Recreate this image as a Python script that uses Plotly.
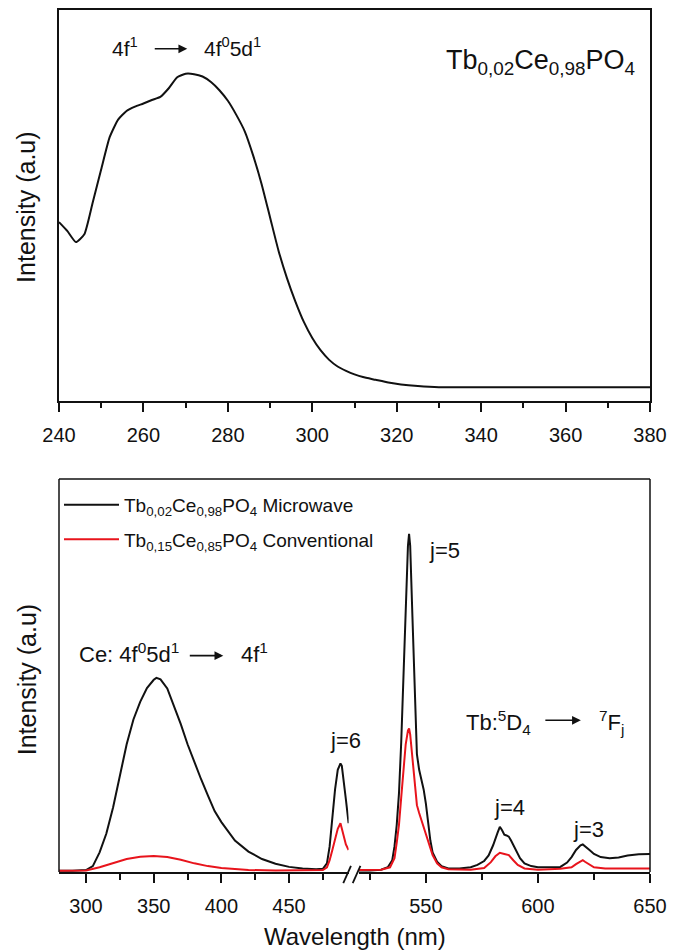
import plotly.graph_objects as go

# ---------------- data ----------------
# Top panel: excitation spectrum Tb0,02Ce0,98PO4
exc_wl = [240, 242, 244, 246, 248, 250, 252, 254, 256, 258, 260, 262, 264, 266, 268, 270,
          272, 274, 276, 278, 280, 282, 284, 286, 288, 290, 292, 294, 296, 298, 300, 302,
          304, 306, 308, 310, 312, 315, 318, 321, 325, 330, 340, 350, 360, 370, 380]
exc_int = [45.8, 43.5, 40.7, 42.7, 50.9, 59.3, 67.5, 72.0, 74.2, 75.3, 76.1, 77.0, 77.8, 80.0,
           82.8, 83.7, 83.6, 83.0, 81.6, 79.5, 76.8, 73.2, 69.0, 62.8, 55.5, 47.0, 38.5, 31.5,
           25.5, 20.3, 16.2, 13.0, 10.6, 8.9, 7.8, 6.9, 6.2, 5.5, 4.8, 4.3, 3.9, 3.6, 3.6, 3.6,
           3.6, 3.6, 3.6]

# Bottom panel, left segment (280-494 nm)
mw_wl_a = [280, 290, 300, 305, 310, 315, 320, 325, 330, 335, 340, 345, 350, 352, 355, 360, 365,
           370, 375, 380, 385, 390, 395, 400, 410, 420, 430, 440, 450, 460, 470, 475, 478, 480,
           482, 484, 486, 488, 489, 490, 492, 494]
mw_int_a = [0.3, 0.3, 0.5, 1.5, 5.0, 9.8, 16.5, 24.5, 32.5, 38.8, 43.3, 46.8, 48.9, 49.4, 49.0,
            46.7, 42.3, 37.6, 32.5, 27.9, 23.6, 19.5, 15.5, 12.7, 8.0, 5.2, 3.3, 2.1, 1.3, 0.9,
            0.7, 0.8, 2.2, 6.5, 14.0, 21.0, 26.0, 27.6, 27.0, 24.5, 18.5, 12.4]
cv_wl_a = [280, 300, 310, 320, 330, 340, 350, 360, 370, 380, 390, 400, 410, 420, 440, 460, 475,
           478, 480, 482, 484, 486, 488, 490, 492, 494]
cv_int_a = [0.3, 0.4, 1.2, 2.3, 3.3, 3.9, 4.1, 3.8, 3.1, 2.2, 1.5, 1.0, 0.7, 0.5, 0.4, 0.4, 0.5,
            1.2, 3.0, 5.6, 8.5, 11.0, 12.4, 9.5, 7.0, 5.6]

# Bottom panel, right segment (520-650 nm)
mw_wl_b = [520, 525, 530, 533, 535, 536, 537, 538, 539, 540, 541, 542, 542.5, 543, 544, 545,
           546, 547, 548, 549, 550, 551, 552, 553, 555, 557, 560, 565, 570, 573, 576, 578, 580,
           582, 583, 584, 585, 586, 587, 588, 590, 592, 594, 597, 600, 605, 610, 613, 615, 617,
           619, 620, 621, 623, 625, 628, 632, 636, 640, 645, 650]
mw_int_b = [0.4, 0.4, 0.6, 1.2, 3.0, 6.5, 12.0, 20.0, 33.0, 50.0, 70.0, 83.0, 86.0, 83.0, 65.0,
            44.0, 30.0, 26.0, 23.5, 21.0, 17.4, 12.5, 8.0, 5.0, 2.6, 1.5, 0.9, 0.9, 1.2, 1.8,
            2.8, 4.2, 6.8, 10.0, 11.5, 10.6, 9.5, 9.3, 9.0, 8.0, 5.6, 3.5, 2.2, 1.5, 1.2, 1.2,
            1.3, 2.4, 3.8, 5.6, 6.8, 7.0, 6.6, 5.6, 4.6, 3.8, 3.5, 3.7, 4.2, 4.5, 4.6]
cv_wl_b = [520, 530, 534, 536, 537, 538, 539, 540, 541, 542, 542.5, 543, 544, 545, 546, 547,
           548, 549, 550, 552, 553, 555, 557, 560, 570, 576, 579, 581, 583, 585, 587, 589, 591,
           594, 600, 610, 615, 617, 619, 620, 621, 623, 625, 630, 640, 650]
cv_int_b = [0.5, 0.6, 1.2, 3.5, 7.5, 12.0, 19.0, 26.0, 32.5, 36.0, 36.5, 35.0, 29.0, 21.5, 17.0,
            15.0, 13.2, 11.5, 9.8, 6.0, 4.3, 2.2, 1.2, 0.7, 0.6, 1.0, 2.5, 4.0, 4.9, 4.6, 4.3,
            3.0, 1.8, 0.9, 0.6, 0.8, 1.2, 2.0, 2.8, 3.0, 2.6, 1.8, 1.2, 0.9, 0.9, 0.9]

top_ticks = [240, 260, 280, 300, 320, 340, 360, 380]
left_ticks = [300, 350, 400, 450]
right_ticks = [550, 600, 650]

name_mw = "Tb<sub>0,02</sub>Ce<sub>0,98</sub>PO<sub>4</sub> Microwave"
name_cv = "Tb<sub>0,15</sub>Ce<sub>0,85</sub>PO<sub>4</sub> Conventional"

# ---------------- figure ----------------
FONT = "Liberation Sans, Arial, sans-serif"
BLACK = "#111111"
RED = "#e8141c"

fig = go.Figure()
fig.add_trace(go.Scatter(x=exc_wl, y=exc_int, mode="lines", line=dict(color=BLACK, width=2, shape="spline", smoothing=0.5),
                         xaxis="x", yaxis="y", showlegend=False))
fig.add_trace(go.Scatter(x=mw_wl_a, y=mw_int_a, mode="lines", name=name_mw, legendgroup="mw",
                         line=dict(color=BLACK, width=2), xaxis="x2", yaxis="y2"))
fig.add_trace(go.Scatter(x=cv_wl_a, y=cv_int_a, mode="lines", name=name_cv, legendgroup="cv",
                         line=dict(color=RED, width=2), xaxis="x2", yaxis="y2"))
fig.add_trace(go.Scatter(x=mw_wl_b, y=mw_int_b, mode="lines", name=name_mw, legendgroup="mw", showlegend=False,
                         line=dict(color=BLACK, width=2), xaxis="x3", yaxis="y2"))
fig.add_trace(go.Scatter(x=cv_wl_b, y=cv_int_b, mode="lines", name=name_cv, legendgroup="cv", showlegend=False,
                         line=dict(color=RED, width=2), xaxis="x3", yaxis="y2"))

TOP_DOM = [0.546, 1.0]
BOT_DOM = [0.0, 0.456]
xa_common = dict(showgrid=False, zeroline=False, ticks="outside", tickcolor=BLACK, tickwidth=1.5,
                 ticklen=9, linecolor=BLACK, linewidth=1.5, showline=True,
                 tickfont=dict(family=FONT, size=20, color=BLACK), ticklabelstandoff=6)

fig.update_layout(
    width=675, height=952,
    margin=dict(l=59, r=18, t=8, b=80),
    paper_bgcolor="white", plot_bgcolor="white",
    font=dict(family=FONT, color=BLACK),
    xaxis=dict(domain=[0, 1], range=[240, 380], anchor="y", tickvals=top_ticks, mirror=True,
               minor=dict(dtick=10, tick0=240, ticks="outside", ticklen=5, tickcolor=BLACK, tickwidth=1.5),
               **xa_common),
    yaxis=dict(domain=TOP_DOM, range=[0, 100], anchor="x", showticklabels=False, ticks="",
               showgrid=False, zeroline=False, showline=True, mirror=True, linecolor=BLACK, linewidth=1.5),
    xaxis2=dict(domain=[0, 0.49], range=[280, 494], anchor="y2", tickvals=left_ticks,
                minor=dict(dtick=25, tick0=275, ticks="outside", ticklen=6, tickcolor=BLACK, tickwidth=1.5),
                **xa_common),
    xaxis3=dict(domain=[0.507, 1], range=[520, 650], anchor="y2", tickvals=right_ticks,
                minor=dict(dtick=25, tick0=525, ticks="outside", ticklen=6, tickcolor=BLACK, tickwidth=1.5),
                **xa_common),
    yaxis2=dict(domain=BOT_DOM, range=[0, 100], anchor="x2", showticklabels=False, ticks="",
                showgrid=False, zeroline=False, showline=False),
    legend=dict(x=0.0, y=0.448, xanchor="left", yanchor="top", bgcolor="rgba(0,0,0,0)",
                font=dict(family=FONT, size=19, color=BLACK), itemwidth=55, tracegroupgap=7),
)

# frame of the bottom panel (top, left, right sides) and axis-break marks
frame = dict(type="line", xref="paper", yref="paper", line=dict(color=BLACK, width=1.5))
fig.add_shape(x0=0, x1=1, y0=BOT_DOM[1], y1=BOT_DOM[1], **frame)
fig.add_shape(x0=0, x1=0, y0=0, y1=BOT_DOM[1], **frame)
fig.add_shape(x0=1, x1=1, y0=0, y1=BOT_DOM[1], **frame)
brk = dict(type="line", xref="paper", yref="paper", line=dict(color=BLACK, width=1.8))
fig.add_shape(x0=0.481, y0=-0.013, x1=0.494, y1=0.007, **brk)
fig.add_shape(x0=0.497, y0=-0.013, x1=0.510, y1=0.007, **brk)

def txt(x, y, s, size=22, angle=0):
    fig.add_annotation(x=x, y=y, xref="paper", yref="paper", text=s, showarrow=False, textangle=angle,
                       font=dict(family=FONT, size=size, color=BLACK), xanchor="center", yanchor="middle")

def arrow(xh, y, length):
    fig.add_annotation(x=xh, y=y, xref="paper", yref="paper", ax=-length, ay=0, axref="pixel", ayref="pixel",
                       text="", showarrow=True, arrowhead=2, arrowsize=1.1, arrowwidth=1.6, arrowcolor=BLACK)

# top panel labels
txt(0.112, 0.957, "4f<sup>1</sup>", 21)
arrow(0.217, 0.955, 34)
txt(0.294, 0.957, "4f<sup>0</sup>5d<sup>1</sup>", 21)
txt(0.815, 0.940, "Tb<sub>0,02</sub>Ce<sub>0,98</sub>PO<sub>4</sub>", 27)

# bottom panel labels
txt(0.119, 0.2535, "Ce: 4f<sup>0</sup>5d<sup>1</sup>", 22)
arrow(0.278, 0.251, 35)
txt(0.33, 0.2535, "4f<sup>1</sup>", 22)
txt(0.485, 0.153, "j=6", 22)
txt(0.652, 0.373, "j=5", 22)
txt(0.744, 0.174, "Tb:<sup>5</sup>D<sub>4</sub>", 22)
arrow(0.883, 0.176, 37)
txt(0.935, 0.174, "<sup>7</sup>F<sub>j</sub>", 22)
txt(0.763, 0.075, "j=4", 22)
txt(0.896, 0.049, "j=3", 22)

# axis titles
txt(0.5, -0.075, "Wavelength (nm)", 24)
txt(-0.055, 0.771, "Intensity (a.u)", 25, -90)
txt(-0.055, 0.223, "Intensity (a.u)", 25, -90)

fig.write_html("out.html", config={"displayModeBar": False},
               post_script="document.body.style.margin='0px';document.body.style.overflow='hidden';")
